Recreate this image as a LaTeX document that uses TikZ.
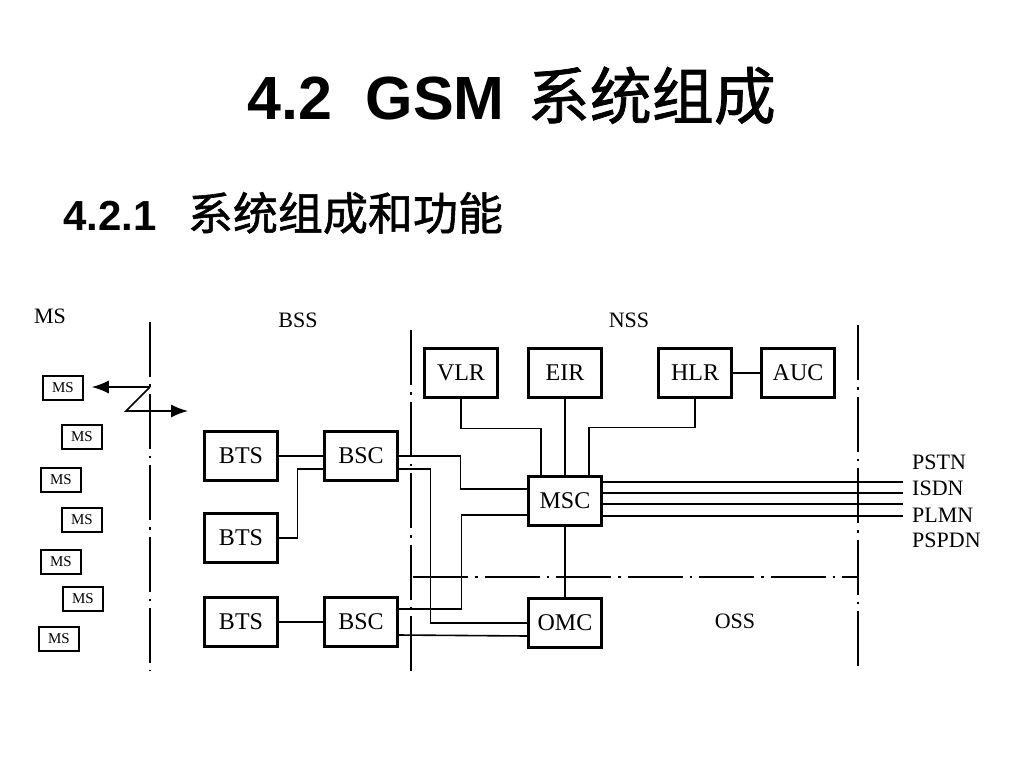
\documentclass[tikz,border=0pt]{standalone}
\usepackage{fontspec}
\setmainfont{Liberation Serif}
\newfontfamily\headfont{Liberation Sans}
\newfontfamily\cjk[FakeBold=1.2]{Noto Sans CJK SC}
\usetikzlibrary{positioning,arrows.meta}
\tikzset{
x=1pt, y=-1pt, % one unit is one pixel of the slide
node distance=120pt, % BTS to BSC
box/.style={draw, line width=2.2pt, minimum width=73pt, minimum height=49pt, inner sep=0pt, font=\fontsize{24}{24}\selectfont},
msbox/.style={draw, line width=1.5pt, minimum width=40pt, minimum height=24pt, inner sep=0pt, font=\fontsize{15}{15}\selectfont},
region/.style={font=\fontsize{22}{22}\selectfont},
netlbl/.style={anchor=west, inner sep=0pt, font=\fontsize{22}{22}\selectfont},
link/.style={line width=1.6pt},
divider/.style={line width=1.6pt, dash pattern=on 55pt off 7pt on 2.5pt off 7pt},
radio/.style={line width=1.6pt, -{Latex[length=17pt,width=13pt]}},
}

\begin{document}
\begin{tikzpicture}[on grid]
   \fill[white] (0,0) rectangle (1024,768);
   \useasboundingbox (0,0) rectangle (1024,768);
   % headings
   \node[anchor=base west, inner sep=0pt] (title) at (247,119) {\headfont\bfseries\fontsize{61}{61}\selectfont 4.2\ \ GSM\hspace{6pt} {\cjk\mdseries\fontsize{62}{62}\selectfont 系统组成}};
   \node[anchor=base west, inner sep=0pt] (subtitle) at (63,230) {\headfont\bfseries\fontsize{42}{42}\selectfont 4.2.1\ \ \hspace{8pt}{\cjk\mdseries\fontsize{45}{45}\selectfont 系统组成和功能}};
   % subsystem borders
   \draw[divider] (150,322) -- (150,671);
   \draw[divider] (411,330) -- (411,672);
   \draw[divider] (858,325) -- (858,673);
   \draw[divider] (413,577) -- (858,577);
   \node[region] (msl) at (50,316) {MS};
   \node[region] (bssl) at (298,320) {BSS};
   \node[region] (nssl) at (629,320) {NSS};
   \node[region] (ossl) at (735,621) {OSS};
   % mobile stations
   \foreach \i/\x/\y in {1/63/388, 2/82/437, 3/61/480, 4/82/520, 5/61/562, 6/83/599, 7/59/639}
      \node[msbox] (ms\i) at (\x,\y) {MS};
   \coordinate (split) at (150,387);
   \coordinate (kink) at (126,411);
   \coordinate (uplink) at (188,411);
   \draw[radio, shorten >=8pt] (split) -- (split -| ms1.east);
   \draw[radio] (split) -- (kink) -- (uplink);
   % BSS
   \node[box] (BTS1) at (241,456) {BTS};
   \node[box, right=of BTS1] (BSC1) {BSC};
   \node[box, below=82pt of BTS1] (BTS2) {BTS};
   \node[box, below=84pt of BTS2] (BTS3) {BTS};
   \node[box, right=of BTS3] (BSC2) {BSC};
   % NSS
   \node[box] (MSC) at (565,501) {MSC};
   \node[box, below=122pt of MSC] (OMC) {OMC};
   \node[box] (VLR) at (461,373) {VLR};
   \node[box, right=104pt of VLR] (EIR) {EIR};
   \node[box, right=130pt of EIR] (HLR) {HLR};
   \node[box, right=103pt of HLR] (AUC) {AUC};
   \path[link]
   (BTS1) edge (BSC1)
   (BTS3) edge (BSC2)
   (MSC) edge (OMC)
   (EIR) edge (MSC)
   (HLR) edge (AUC);
   \draw[link] (BTS2.east) -- ++(19,0) |- ([yshift=-13pt]BSC1.west);
   \draw[link] (BSC1.east) -- ++(62,0) |- ([yshift=12pt]MSC.west);
   \draw[link] ([yshift=-13pt]BSC1.east) -- ++(32,0) |- (OMC.west);
   \draw[link] ([yshift=13pt]BSC2.east) -- ++(63,0) |- ([yshift=-14pt]MSC.west);
   \draw[link] ([yshift=-13pt]BSC2.east) -- ([yshift=-13pt]OMC.west);
   \draw[link] (VLR.south) -- ++(0,30) -| ([xshift=-24pt]MSC.north);
   \draw[link] (HLR.south) -- ++(0,29) -| ([xshift=24pt]MSC.north);
   % trunks to the outside networks
   \foreach \dy in {19,8,-3,-15}
      \draw[link] ([yshift=\dy pt]MSC.east) -- ++(300.5,0);
   \foreach \net/\y in {PSTN/462, ISDN/488, PLMN/515, PSPDN/540}
      \node[netlbl] (\net) at (912,\y) {\net};
\end{tikzpicture}
\end{document}
